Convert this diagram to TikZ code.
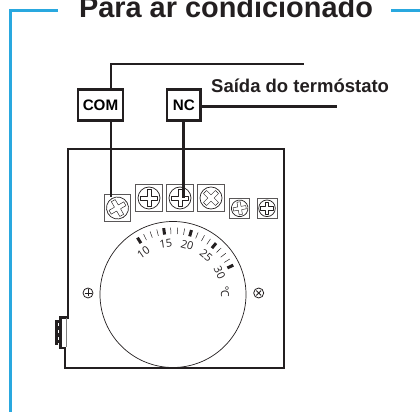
\documentclass[tikz,border=0pt]{standalone}
\usepackage{fontspec}
\setmainfont{Liberation Sans}
\newfontfamily\dialfont{Open Sans}
\definecolor{frameblue}{HTML}{29A8DF}
\definecolor{inkdark}{HTML}{231F20}
\tikzset{
  frameline/.style={draw=frameblue, line width=3pt},
  wire/.style={draw=inkdark, line width=2.6pt},
  tagbox/.style={draw=inkdark, line width=2.5pt, fill=white, inner sep=0pt, font=\fontsize{15.2}{16}\selectfont\bfseries},
  termbox/.style={draw=inkdark!75, line width=0.9pt, inner sep=0pt},
}

\begin{document}
\begin{tikzpicture}[x=1pt, y=1pt]
  \useasboundingbox (0,0) rectangle (420,412);

  \coordinate (framecorner) at (10.5,401);
  \coordinate (framebottom) at (10.5,0);
  \coordinate (dial) at (173,117.5);

  % blue frame and title
  \node[text=inkdark, font=\fontsize{28.9}{30}\selectfont\bfseries, anchor=base] (title) at (226,394.7) {Para ar condicionado};
  \coordinate (frameleft) at (58,401);
  \coordinate (frameright) at (391,401);
  \coordinate (frameend) at (420,401);
  \draw[frameline] (frameleft) -- (framecorner) -- (framebottom);
  \draw[frameline] (frameright) -- (frameend);

  % thermostat body
  \draw[wire, line join=miter] (68,263) -- (284,263) -- (284,44) -- (65,44) -- (65,64) -- (60.6,64) -- (60.6,94.5) -- (68,94.5) -- cycle;
  \draw[gray, line width=1pt] (66,65) -- (66,94);
  \fill[inkdark] (55,67) rectangle (57.5,92);
  \foreach \y in {68.5,75,82,88.5}
    \fill[inkdark] (55,\y) rectangle (60,\y+3.6);

  % terminals: name/x/y/angle/size
  \foreach \name/\x/\y/\a/\s in {tone/117.5/204/30/26.5, ttwo/149/214/0/26.5, tthree/180/214/0/26.5, tfour/211/214/45/26.5, tfive/239.7/203.7/10/20, tsix/267/203.7/0/20} {
    \node[termbox, minimum size=\s pt] (\name) at (\x,\y) {};
    \begin{scope}[shift={(\x,\y)}, rotate=\a, scale=\s/26.5]
      \draw[inkdark, line width=0.7pt] (0,0) circle (11);
      \draw[inkdark, line width=0.45pt, line join=round] (-2.2,-8.5) -- (2.2,-8.5) -- (2.2,-2.2) -- (8.5,-2.2) -- (8.5,2.2) -- (2.2,2.2) -- (2.2,8.5) -- (-2.2,8.5) -- (-2.2,2.2) -- (-8.5,2.2) -- (-8.5,-2.2) -- (-2.2,-2.2) -- cycle;
    \end{scope}
  }

  % dial
  \draw[inkdark, line width=0.7pt] (dial) circle (73);
  \begin{scope}[shift={(dial)}]
    \foreach \i in {0,...,16} {
      \pgfmathsetmacro{\ang}{122-6*\i}
      \pgfmathtruncatemacro{\rest}{mod(\i,4)}
      \ifnum\rest=0
        \draw[inkdark, line width=3pt] (\ang:60.5) -- (\ang:67);
      \else
        \draw[inkdark, line width=0.5pt] (\ang:60.5) -- (\ang:67);
      \fi
    }
    \foreach \val/\ang in {10/125, 15/98, 20/74, 25/50, 30/25}
      \node[font=\dialfont\fontsize{11}{12}\selectfont, text=inkdark, inner sep=0pt, rotate=\ang-90] (lab\val) at (\ang:51.5) {\val};
    \node[font=\dialfont\fontsize{11}{12}\selectfont, text=inkdark, inner sep=0pt, rotate=-87] (labdeg) at (3:52) {°C};
  \end{scope}

  % small screws
  \foreach \name/\x/\a in {sleft/88/0, sright/258.7/45} {
    \node[circle, draw=inkdark, line width=0.8pt, minimum size=10pt, inner sep=0pt] (\name) at (\x,119) {};
    \draw[inkdark, line width=0.9pt, rotate around={\a:(\name)}] ([xshift=-3.5pt]\name.center) -- ([xshift=3.5pt]\name.center);
    \draw[inkdark, line width=0.9pt, rotate around={\a:(\name)}] ([yshift=-3.5pt]\name.center) -- ([yshift=3.5pt]\name.center);
  }

  % tags and wires
  \node[tagbox, minimum width=45pt, minimum height=31pt] (COM) at (100.5,306.8) {COM};
  \node[tagbox, minimum width=33.5pt, minimum height=31pt] (NC) at (183.8,306.8) {NC};
  \node[text=inkdark, font=\fontsize{18.5}{20}\selectfont\bfseries, anchor=base west, inner sep=0pt] (outlabel) at (211,319.7) {Saída do termóstato};

  \coordinate (comin) at (111,215);
  \coordinate (comtop) at (111,348);
  \coordinate (comend) at (304,348);
  \coordinate (ncin) at (183.7,214);
  \coordinate (ncend) at (336.7,305.3);
  \draw[wire] (comin) -- (comin |- COM.south);
  \draw[wire] (comtop |- COM.north) -- (comtop) -- (comend);
  \draw[wire] (ncin) -- (ncin |- NC.south);
  \draw[wire] (NC.east |- ncend) -- (ncend);
\end{tikzpicture}
\end{document}
